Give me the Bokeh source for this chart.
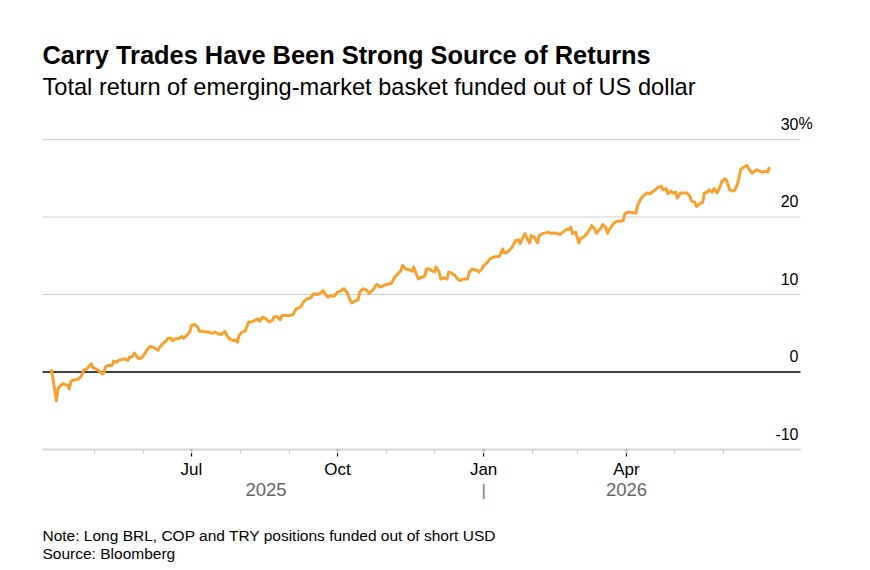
import pandas as pd
from bokeh.plotting import figure
from bokeh.models import ColumnDataSource, FixedTicker, DatetimeTickFormatter, Label, Range1d
from bokeh.embed import file_html
from bokeh.resources import INLINE

# ---------------- data ----------------
title_text = "Carry Trades Have Been Strong Source of Returns"
subtitle_text = "Total return of emerging-market basket funded out of US dollar"
note_text = "Note: Long BRL, COP and TRY positions funded out of short USD"
source_text = "Source: Bloomberg"

dates = [
    "2025-04-03", "2025-04-04", "2025-04-06", "2025-04-07", "2025-04-08", "2025-04-09", "2025-04-11",
    "2025-04-12", "2025-04-14", "2025-04-15", "2025-04-16", "2025-04-17", "2025-04-19", "2025-04-21",
    "2025-04-23", "2025-04-24", "2025-04-26", "2025-04-27", "2025-04-29", "2025-04-30",
    "2025-05-02", "2025-05-04", "2025-05-06", "2025-05-07", "2025-05-08", "2025-05-10", "2025-05-12",
    "2025-05-13", "2025-05-15", "2025-05-16", "2025-05-18", "2025-05-20", "2025-05-22", "2025-05-23",
    "2025-05-25", "2025-05-26", "2025-05-28", "2025-05-29", "2025-05-31",
    "2025-06-02", "2025-06-03", "2025-06-05", "2025-06-07", "2025-06-10", "2025-06-11", "2025-06-13",
    "2025-06-15", "2025-06-16", "2025-06-18", "2025-06-19", "2025-06-21", "2025-06-23", "2025-06-25",
    "2025-06-26", "2025-06-28", "2025-06-30",
    "2025-07-01", "2025-07-03", "2025-07-05", "2025-07-06", "2025-07-08", "2025-07-10", "2025-07-12",
    "2025-07-14", "2025-07-16", "2025-07-18", "2025-07-20", "2025-07-22", "2025-07-24", "2025-07-26",
    "2025-07-28", "2025-07-29", "2025-07-30", "2025-07-31",
    "2025-08-02", "2025-08-04", "2025-08-06", "2025-08-08", "2025-08-10", "2025-08-12", "2025-08-13",
    "2025-08-15", "2025-08-17", "2025-08-19", "2025-08-21", "2025-08-22", "2025-08-24", "2025-08-26",
    "2025-08-27", "2025-08-29", "2025-08-31",
    "2025-09-03", "2025-09-05", "2025-09-07", "2025-09-08", "2025-09-10", "2025-09-12", "2025-09-14",
    "2025-09-16", "2025-09-18", "2025-09-20", "2025-09-22", "2025-09-23", "2025-09-25", "2025-09-27",
    "2025-09-29",
    "2025-10-01", "2025-10-03", "2025-10-05", "2025-10-07", "2025-10-09", "2025-10-10", "2025-10-12",
    "2025-10-14", "2025-10-15", "2025-10-17", "2025-10-19", "2025-10-21", "2025-10-24", "2025-10-25",
    "2025-10-26", "2025-10-28", "2025-10-30",
    "2025-11-01", "2025-11-04", "2025-11-06", "2025-11-08", "2025-11-10", "2025-11-11", "2025-11-13",
    "2025-11-15", "2025-11-17", "2025-11-18", "2025-11-20", "2025-11-21", "2025-11-23", "2025-11-25",
    "2025-11-26", "2025-11-28", "2025-11-29",
    "2025-12-01", "2025-12-02", "2025-12-04", "2025-12-05", "2025-12-07", "2025-12-09", "2025-12-10",
    "2025-12-12", "2025-12-14", "2025-12-15", "2025-12-17", "2025-12-19", "2025-12-22", "2025-12-23",
    "2025-12-25", "2025-12-28", "2025-12-29", "2025-12-31",
    "2026-01-01", "2026-01-03", "2026-01-05", "2026-01-07", "2026-01-09", "2026-01-11", "2026-01-13",
    "2026-01-14", "2026-01-16", "2026-01-19", "2026-01-21", "2026-01-23", "2026-01-24", "2026-01-25",
    "2026-01-27", "2026-01-28", "2026-01-30", "2026-01-31",
    "2026-02-02", "2026-02-04", "2026-02-05", "2026-02-07", "2026-02-09", "2026-02-11", "2026-02-12",
    "2026-02-14", "2026-02-16", "2026-02-18", "2026-02-20", "2026-02-22", "2026-02-24", "2026-02-25",
    "2026-02-26", "2026-02-28",
    "2026-03-02", "2026-03-03", "2026-03-05", "2026-03-07", "2026-03-09", "2026-03-10", "2026-03-12",
    "2026-03-13", "2026-03-16", "2026-03-17", "2026-03-19", "2026-03-20", "2026-03-21", "2026-03-24",
    "2026-03-26", "2026-03-28", "2026-03-30", "2026-03-31",
    "2026-04-02", "2026-04-05", "2026-04-07", "2026-04-08", "2026-04-10", "2026-04-12", "2026-04-14",
    "2026-04-16", "2026-04-17", "2026-04-19", "2026-04-21", "2026-04-23", "2026-04-24", "2026-04-26",
    "2026-04-27", "2026-04-29", "2026-04-30",
    "2026-05-02", "2026-05-03", "2026-05-05", "2026-05-07", "2026-05-09", "2026-05-11", "2026-05-12",
    "2026-05-14", "2026-05-15", "2026-05-17", "2026-05-19", "2026-05-20", "2026-05-22", "2026-05-23",
    "2026-05-25", "2026-05-26", "2026-05-28", "2026-05-30", "2026-05-31",
    "2026-06-02", "2026-06-03", "2026-06-05", "2026-06-07", "2026-06-08", "2026-06-10", "2026-06-12",
    "2026-06-14", "2026-06-16", "2026-06-17", "2026-06-19", "2026-06-20", "2026-06-22", "2026-06-24",
    "2026-06-25", "2026-06-28", "2026-06-29", "2026-06-30",
]

total_return = [
    0.0, 0.2, -2.4, -3.7, -2.2, -1.9, -1.5, -1.6, -1.7, -2.2, -1.3, -1.1, -1.0, -0.9,
    -0.45, 0.2, 0.4, 0.6, 1.05, 0.55,
    0.4, 0.1, -0.25, 0.0, 0.7, 0.85, 0.85, 1.4, 1.25, 1.5, 1.6, 1.7, 1.5, 1.9, 2.0, 2.45, 1.9, 1.7, 1.9,
    2.45, 2.85, 3.3, 3.2, 2.8, 3.2, 3.65, 4.0, 4.3, 4.4, 4.05, 4.3, 4.3, 4.6, 4.35, 4.7, 5.15,
    6.0, 6.15, 5.8, 5.25, 5.25, 5.15, 5.15, 5.0, 5.15, 4.9, 4.85, 5.25, 4.5, 4.15, 4.05, 4.15, 3.85, 4.7,
    5.15, 5.35, 6.45, 6.45, 6.65, 6.85, 6.55, 7.1, 6.85, 6.45, 6.65, 7.1, 7.15, 6.75, 7.3, 7.3, 7.3,
    7.4, 8.15, 8.3, 8.45, 9.15, 9.45, 9.55, 10.1, 10.0, 10.15, 10.5, 10.1, 9.65, 9.85, 9.8,
    10.3, 10.45, 10.75, 10.3, 9.25, 8.9, 9.15, 9.3, 10.3, 10.75, 10.6, 10.15, 10.75, 11.15, 11.3, 10.95, 11.15,
    11.3, 11.45, 12.25, 12.65, 13.1, 13.75, 13.3, 13.2, 13.0, 13.55, 12.45, 12.0, 12.25, 12.35, 13.3, 13.3, 13.1,
    12.9, 13.55, 12.9, 12.0, 12.15, 12.0, 12.9, 12.75, 12.45, 12.15, 11.8, 12.0, 12.0, 12.9, 13.3, 13.1, 12.9, 13.3,
    13.75, 14.05, 14.6, 14.8, 14.9, 14.9, 15.9, 15.35, 15.45, 16.1, 16.95, 17.05, 16.55, 17.05, 17.85, 17.4, 16.65, 17.6,
    17.4, 16.65, 17.6, 17.85, 17.95, 18.05, 17.9, 17.95, 17.9, 17.75, 18.05, 18.35, 18.45, 18.7, 17.85, 18.05,
    16.65, 17.2, 17.4, 17.85, 18.45, 18.9, 18.45, 17.9, 18.6, 19.05, 18.6, 17.9, 18.35, 19.2, 19.45, 19.45, 19.55, 20.4,
    20.65, 20.55, 20.5, 21.5, 22.35, 22.8, 23.1, 23.0, 23.2, 23.5, 23.85, 23.95, 23.5, 23.65, 23.0, 23.35, 23.1,
    23.2, 22.45, 23.1, 23.1, 23.1, 22.65, 22.05, 21.9, 21.35, 21.7, 21.9, 23.1, 23.2, 23.5, 23.2, 23.65, 23.1, 23.95, 24.6,
    24.95, 24.7, 23.5, 23.35, 23.4, 24.3, 26.2, 26.45, 26.65, 26.2, 25.65, 25.8, 26.1, 25.9, 25.8, 25.9, 25.8, 26.45,
]
assert len(dates) == len(total_return)

y_ticks = [-10, 0, 10, 20, 30]
y_tick_labels = ["-10", "0", "10", "20", "30"]
major_months = ["2025-07-01", "2025-10-01", "2026-01-01", "2026-04-01"]
minor_months = ["2025-05-01", "2025-06-01", "2025-07-01", "2025-08-01", "2025-09-01", "2025-10-01",
                "2025-11-01", "2025-12-01", "2026-01-01", "2026-02-01", "2026-03-01", "2026-04-01",
                "2026-05-01", "2026-06-01"]
year_labels = ["2025", "2026"]
year_label_dates = ["2025-08-17", "2026-04-01"]
year_divider_date = "2026-01-01"

# ---------------- layout ----------------
FONT = "Liberation Sans"
W, H = 870, 570
# plot area in canvas pixels
LEFT, RIGHT, TOP_GRID, BOTTOM = 42, 800, 139, 449


def ms(s):
    return pd.Timestamp(s).value / 1e6


x_left = ms("2025-03-29 06:00")    # date at the left edge of the plot area
x_right = ms("2026-07-19 13:30")   # date at the right edge of the plot area
px_per_ms = (RIGHT - LEFT) / (x_right - x_left)
px_per_unit = (BOTTOM - TOP_GRID) / (y_ticks[-1] - y_ticks[0])


def y_at(canvas_y):
    return y_ticks[0] + (BOTTOM - canvas_y) / px_per_unit


# the frame covers the whole canvas; the x axis is drawn at a fixed location
xr = Range1d(x_left - LEFT / px_per_ms, x_right + (W - RIGHT) / px_per_ms)
yr = Range1d(y_at(H), y_at(0))

src = ColumnDataSource(dict(date=pd.to_datetime(dates), ret=total_return))
n = len(y_ticks)
grid_src = ColumnDataSource(dict(x0=[x_left] * n, x1=[x_right] * n, y=y_ticks,
                                 color=["#d0d0d0" if v != 0 else "black" for v in y_ticks],
                                 width=[1 if v != 0 else 1.3 for v in y_ticks]))

p = figure(width=W, height=H, x_axis_type="datetime", y_axis_location=None,
           x_range=xr, y_range=yr, output_backend="svg", toolbar_location=None,
           min_border=0)
p.outline_line_color = None
p.background_fill_color = "white"
p.border_fill_color = "white"
p.xgrid.visible = False
p.ygrid.visible = False

# horizontal gridlines across the plot area (zero line in black)
p.segment(x0="x0", x1="x1", y0="y", y1="y", source=grid_src, line_color="color",
          line_width="width", level="underlay")

p.line(x="date", y="ret", source=src, line_color="#F9A12E", line_width=3, line_join="round")

# x axis
xa = p.xaxis[0]
xa.fixed_location = y_ticks[0]
xa.bounds = (x_left, x_right)
xa.ticker = FixedTicker(ticks=[ms(d) for d in major_months], minor_ticks=[ms(d) for d in minor_months])
fmt = "%b"
xa.formatter = DatetimeTickFormatter(microseconds=fmt, milliseconds=fmt, seconds=fmt, minsec=fmt,
                                     minutes=fmt, hourmin=fmt, hours=fmt, days=fmt, months=fmt, years=fmt)
xa.axis_line_color = "#d6d6d6"
xa.axis_line_width = 1.8
xa.major_tick_line_color = "black"
xa.major_tick_line_width = 1.2
xa.major_tick_in = 0
xa.major_tick_out = 7
xa.minor_tick_line_color = "#c8c8c8"
xa.minor_tick_line_width = 1
xa.minor_tick_in = 0
xa.minor_tick_out = 4
xa.major_label_text_font = FONT
xa.major_label_text_font_size = "17px"
xa.major_label_text_color = "black"
xa.major_label_standoff = 3

# y labels (above gridlines, right-aligned)
for v, t in zip(y_ticks, y_tick_labels):
    p.add_layout(Label(x=x_right, y=v, text=t, text_align="right", text_baseline="alphabetic",
                       x_offset=-2, y_offset=16, text_font=FONT, text_font_size="16px", text_color="black"))
p.add_layout(Label(x=x_right, y=y_ticks[-1], text="%", text_align="left", text_baseline="alphabetic",
                   x_offset=-2, y_offset=16, text_font=FONT, text_font_size="16px", text_color="black"))

# year labels
for t, d in zip(year_labels, year_label_dates):
    p.add_layout(Label(x=ms(d), y=y_at(489), text=t, text_align="center", text_baseline="alphabetic",
                       text_font=FONT, text_font_size="18.5px", text_color="#666666"))
p.add_layout(Label(x=ms(year_divider_date), y=y_at(490), text="|", text_align="center",
                   text_baseline="alphabetic", text_font=FONT, text_font_size="17px", text_color="#777777"))

# titles and notes
p.add_layout(Label(x=x_left, y=y_at(54), text=title_text, text_align="left", text_baseline="alphabetic",
                   text_font=FONT, text_font_style="bold", text_font_size="25.4px", text_color="black"))
p.add_layout(Label(x=x_left, y=y_at(86), text=subtitle_text, text_align="left", text_baseline="alphabetic",
                   text_font=FONT, text_font_size="23.6px", text_color="black"))
p.add_layout(Label(x=x_left, y=y_at(535), text=note_text, text_align="left", text_baseline="alphabetic",
                   text_font=FONT, text_font_size="15.5px", text_color="black"))
p.add_layout(Label(x=x_left, y=y_at(553), text=source_text, text_align="left", text_baseline="alphabetic",
                   text_font=FONT, text_font_size="15.5px", text_color="black"))

open("out.html", "w").write(file_html(p, INLINE))
